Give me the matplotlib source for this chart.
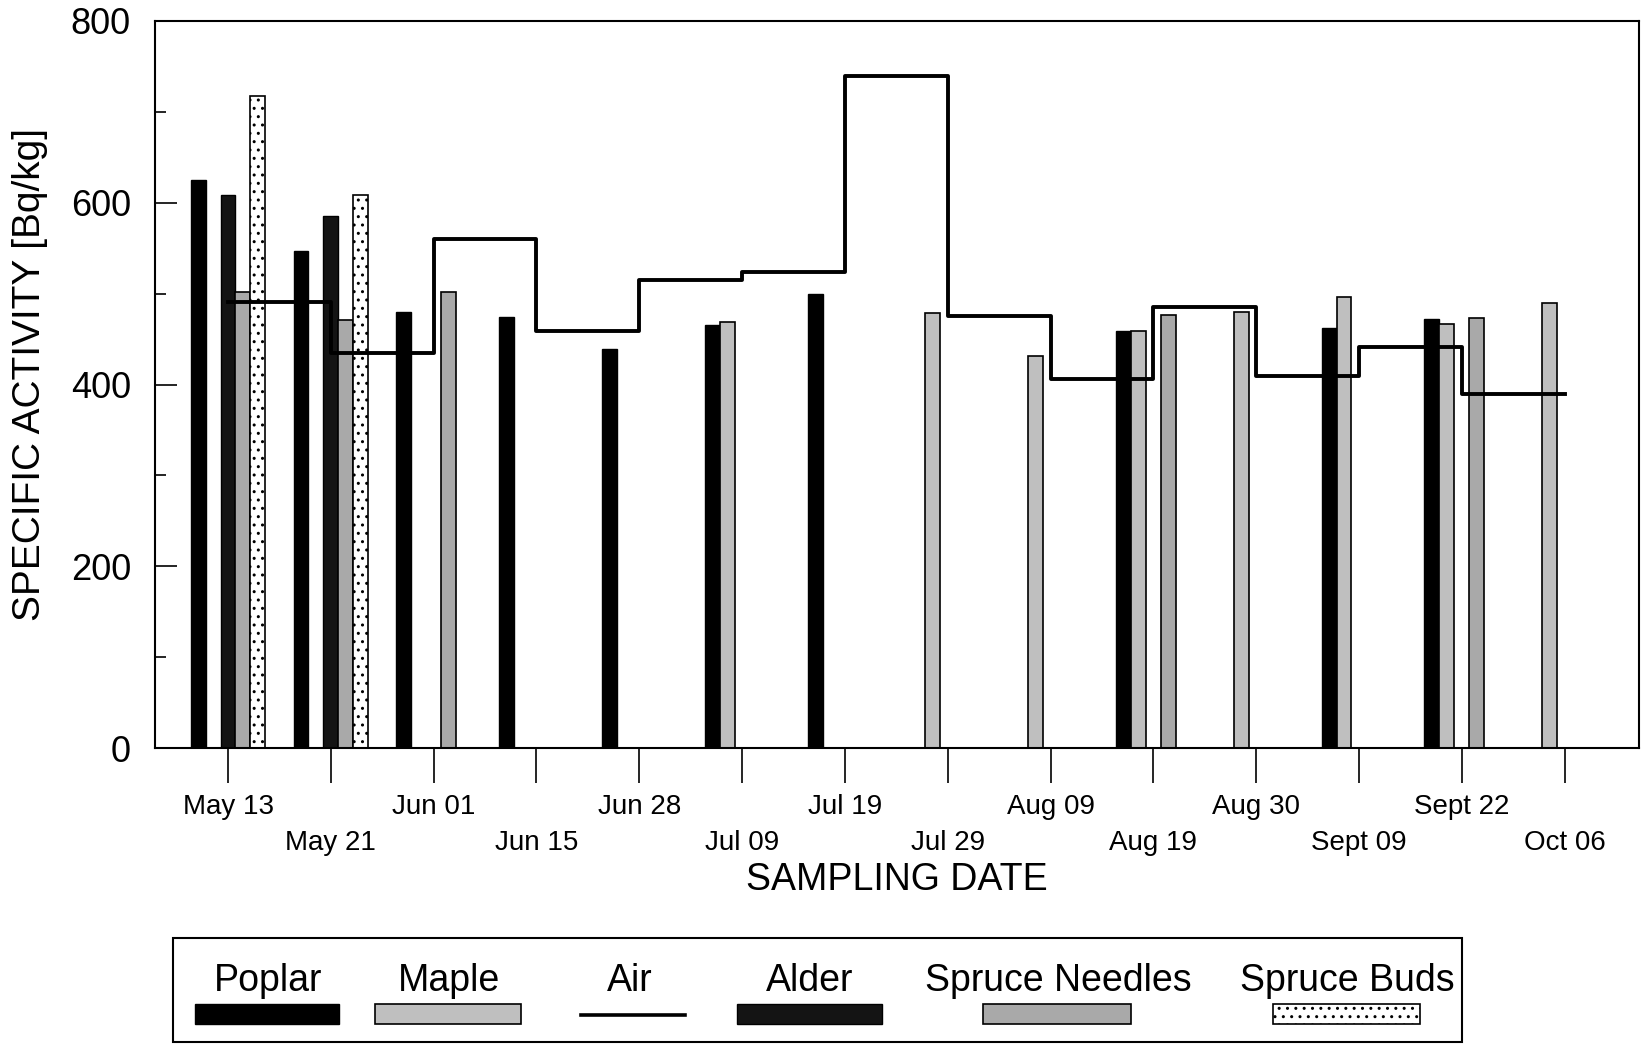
import numpy as np
import matplotlib
matplotlib.use("Agg")
import matplotlib.pyplot as plt
from matplotlib.patches import Rectangle
from matplotlib.lines import Line2D

plt.rcParams['font.family'] = ['Liberation Sans', 'DejaVu Sans']

nan = np.nan
dates = ["May 13", "May 21", "Jun 01", "Jun 15", "Jun 28", "Jul 09", "Jul 19",
         "Jul 29", "Aug 09", "Aug 19", "Aug 30", "Sept 09", "Sept 22", "Oct 06"]

poplar = [625, 547, 480, 474, 439, 466, 500, nan, nan, 459, nan, 462, 472, nan]
maple = [nan, nan, nan, nan, nan, 469, nan, 479, 431, 459, 480, 496, 467, 490]
alder = [608, 585, nan, nan, nan, nan, nan, nan, nan, nan, nan, nan, nan, nan]
needles = [502, 471, 502, nan, nan, nan, nan, nan, nan, 477, nan, nan, 473, nan]
buds = [717, 609, nan, nan, nan, nan, nan, nan, nan, nan, nan, nan, nan, nan]
# air value holds from one sampling date to the next
air = [491, 435, 560, 459, 515, 524, 740, 475, 406, 485, 409, 441, 389]

styles = {
    "Poplar": dict(facecolor="black", edgecolor="black", linewidth=1.0),
    "Maple": dict(facecolor="#bfbfbf", edgecolor="black", linewidth=1.2),
    "Alder": dict(facecolor="#141414", edgecolor="black", linewidth=1.0),
    "Spruce Needles": dict(facecolor="#a9a9a9", edgecolor="black", linewidth=1.2),
    "Spruce Buds": dict(facecolor="white", edgecolor="black", linewidth=1.2, hatch=".."),
}

W, H = 1647, 1045
fig = plt.figure(figsize=(W / 100, H / 100), dpi=100)
ax = fig.add_axes([154.5 / W, 1 - 748 / H, (1638.6 - 154.5) / W, (748 - 21) / H])

x = np.arange(len(dates))
bw = 0.145
series = [("Poplar", poplar, -2), ("Maple", maple, -1), ("Alder", alder, 0),
          ("Spruce Needles", needles, 1), ("Spruce Buds", buds, 2)]
for name, vals, slot in series:
    v = np.array(vals, dtype=float)
    m = ~np.isnan(v)
    ax.bar(x[m] + slot * bw, v[m], width=bw, zorder=2, **styles[name])

ax.step(x, air + [air[-1]], where="post", color="black", lw=2.8, zorder=4)

ax.set_xlim(-0.715, 13.72)
ax.set_ylim(0, 800)

ax.set_xticks(x)
ax.set_xticklabels(dates)
ax.tick_params(axis="x", direction="out", length=25, width=1.2, labelsize=20, pad=8)
for i, t in enumerate(ax.xaxis.get_major_ticks()):
    if i % 2:
        t.set_pad(34)

ax.set_yticks(np.arange(0, 801, 200))
ax.set_yticks(np.arange(100, 800, 200), minor=True)
ax.tick_params(axis="y", which="major", direction="in", length=16, width=1.2,
               labelsize=26, pad=17)
ax.tick_params(axis="y", which="minor", direction="in", length=8, width=1.2)

for s in ax.spines.values():
    s.set_linewidth(1.5)

ax.set_ylabel("SPECIFIC ACTIVITY [Bq/kg]", fontsize=28)
ax.yaxis.set_label_coords(-0.072, 0.514)
ax.set_xlabel("SAMPLING DATE", fontsize=27)
ax.xaxis.set_label_coords(0.5, -0.157)


# legend drawn by hand: label on top, swatch underneath
def fx(px):
    return px / W


def fy(py):
    return 1 - py / H


fig.add_artist(Rectangle((fx(173), fy(1042)), fx(1462) - fx(173), fy(938) - fy(1042),
                         transform=fig.transFigure, fill=False, lw=1.5, ec="black"))

legend_items = [("Poplar", 268, 195, 339), ("Maple", 449, 375, 521), ("Air", 630, 581, 685),
                ("Alder", 810, 737, 882), ("Spruce Needles", 1058, 983, 1131),
                ("Spruce Buds", 1347, 1273, 1420)]
for name, cx, x0, x1 in legend_items:
    fig.text(fx(cx), fy(991), name, ha="center", va="baseline", fontsize=27)
    if name == "Air":
        fig.add_artist(Line2D([fx(x0), fx(x1)], [fy(1015), fy(1015)],
                              transform=fig.transFigure, color="black", lw=2.6))
    else:
        fig.add_artist(Rectangle((fx(x0), fy(1024)), fx(x1) - fx(x0), fy(1004) - fy(1024),
                                 transform=fig.transFigure, **styles[name]))

fig.savefig("out.png", dpi=100)
